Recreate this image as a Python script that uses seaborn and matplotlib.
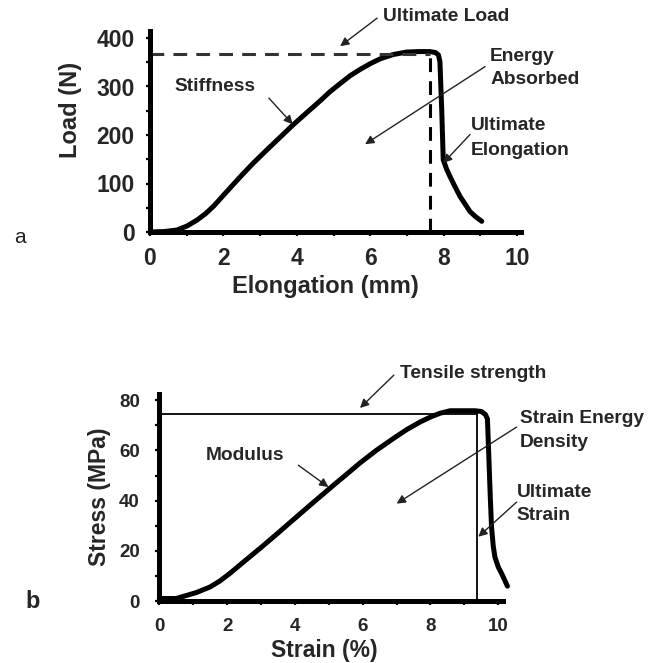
import matplotlib
matplotlib.use("Agg")
import matplotlib.pyplot as plt
import seaborn as sns
import numpy as np
import pandas as pd
from matplotlib.ticker import MultipleLocator, NullFormatter

# ---------------- data ----------------
# panel a: load-elongation curve
elong_mm = [0.0, 0.4, 0.73, 1.0, 1.27, 1.5, 1.73, 2.1, 2.45, 2.8, 3.18, 3.54, 3.9,
            4.3, 4.63, 4.9, 5.18, 5.45, 5.72, 6.0, 6.27, 6.63, 6.99, 7.3, 7.63,
            7.78, 7.86, 7.9, 7.95, 7.99, 8.08, 8.17, 8.3, 8.45, 8.6, 8.72, 8.88, 9.04]
load_N = [0, 1, 4, 12, 24, 37, 53, 84, 113, 141, 169, 195, 221,
          248, 270, 289, 306, 322, 335, 347, 357, 366, 371, 372, 372,
          370, 365, 351, 250, 149, 130, 115, 95, 73, 56, 42, 31, 22]
ultimate_load = 368
ultimate_elong = 7.63

# panel b: stress-strain curve
strain_pct = [0.0, 0.5, 1.1, 1.5, 1.79, 2.1, 2.48, 3.0, 3.46, 3.86, 4.45, 5.04, 5.5, 5.92,
              6.4, 6.9, 7.3, 7.69, 8.0, 8.28, 8.58, 9.0, 9.31, 9.5, 9.62,
              9.68, 9.71, 9.76, 9.8, 9.85, 9.9, 10.0, 10.1, 10.27]
stress_MPa = [1, 1, 3.4, 5.6, 8.0, 11.2, 15.5, 21.3, 26.6, 31.3, 38.2, 45.0, 50.2, 55.0,
              60.0, 64.7, 68.3, 71.3, 73.3, 74.8, 75.8, 75.8, 75.8, 75.5, 74.3,
              72.5, 61.4, 42.8, 29.5, 22.0, 17.5, 13.5, 10.9, 5.9]
tensile_strength = 74.7
ultimate_strain = 9.36

# ---------------- style ----------------
sns.set_style("ticks")
plt.rcParams['font.family'] = ['Liberation Sans', 'DejaVu Sans']
plt.rcParams['font.weight'] = 'bold'

W, H = 653, 663
fig = plt.figure(figsize=(W / 100, H / 100), dpi=100)

def px_axes(x0, y0, ppx, ppy, xmax, ymax):
    # x0,y0: pixel position of data origin (from top-left); ppx/ppy: pixels per unit
    left = x0 / W
    bottom = (H - y0) / H
    width = xmax * ppx / W
    height = ymax * ppy / H
    return fig.add_axes([left, bottom, width, height])

def style_axes(ax, spine_lw, tick_fs, xpad, ypad):
    for s in ["top", "right"]:
        ax.spines[s].set_visible(False)
    for s in ["left", "bottom"]:
        ax.spines[s].set_linewidth(spine_lw)
        ax.spines[s].set_color("black")
        ax.spines[s].set_capstyle("projecting")
    ax.tick_params(axis="both", which="both", direction="out", length=3,
                   width=1.6, color="black", labelsize=tick_fs)
    ax.tick_params(axis="x", which="major", pad=xpad)
    ax.tick_params(axis="y", which="major", pad=ypad)
    ax.set_xlabel("")
    ax.set_ylabel("")
    ax.patch.set_alpha(0)
    for lab in ax.get_xticklabels() + ax.get_yticklabels():
        lab.set_fontweight("bold")
    for ln in ax.get_lines():
        ln.set_clip_on(False)

# ---------------- panel a ----------------
ax1 = px_axes(150, 232, 36.7, 0.485, 10.1, 414)
dfa = pd.DataFrame({"Elongation (mm)": elong_mm, "Load (N)": load_N})
sns.lineplot(data=dfa, x="Elongation (mm)", y="Load (N)", ax=ax1, color="black",
             lw=3.6, sort=False, estimator=None, solid_capstyle="round",
             solid_joinstyle="round")
ax1.plot([0, ultimate_elong], [ultimate_load, ultimate_load], color="#333333",
         lw=2.2, linestyle=(0, (4.5, 3)))
ax1.plot([ultimate_elong, ultimate_elong], [0, ultimate_load], color="black",
         lw=2.2, linestyle=(0, (4.5, 3)))
ax1.set_xlim(0, 10.1)
ax1.set_ylim(0, 414)
ax1.xaxis.set_major_locator(MultipleLocator(2))
ax1.xaxis.set_minor_locator(MultipleLocator(1))
ax1.yaxis.set_major_locator(MultipleLocator(100))
ax1.yaxis.set_minor_locator(MultipleLocator(50))
ax1.xaxis.set_minor_formatter(NullFormatter())
style_axes(ax1, 3.6, 16.5, 8, 8)

ann_fs = 13.8
arrow = dict(arrowstyle="-|>", color="#222222", lw=1.0, mutation_scale=13,
             shrinkA=0, shrinkB=0)
ax1.text(6.35, 445, "Ultimate Load", fontsize=ann_fs, fontweight="bold",
         va="center", ha="left", clip_on=False)
ax1.annotate("", xy=(5.18, 383), xytext=(6.19, 441), arrowprops=arrow,
             annotation_clip=False)
ax1.text(0.68, 301, "Stiffness", fontsize=ann_fs, fontweight="bold",
         va="center", ha="left")
ax1.annotate("", xy=(3.89, 222), xytext=(3.24, 276), arrowprops=arrow)
ax1.text(9.27, 362, "Energy", fontsize=ann_fs, fontweight="bold",
         va="center", ha="left", clip_on=False)
ax1.text(9.27, 314, "Absorbed", fontsize=ann_fs, fontweight="bold",
         va="center", ha="left", clip_on=False)
ax1.annotate("", xy=(5.86, 181), xytext=(9.13, 341), arrowprops=arrow,
             annotation_clip=False)
ax1.text(8.75, 219, "Ultimate", fontsize=ann_fs, fontweight="bold",
         va="center", ha="left", clip_on=False)
ax1.text(8.75, 169, "Elongation", fontsize=ann_fs, fontweight="bold",
         va="center", ha="left", clip_on=False)
ax1.annotate("", xy=(7.99, 142), xytext=(8.72, 201), arrowprops=arrow,
             annotation_clip=False)

fig.text(70 / W, 1 - 110 / H, "Load (N)", rotation=90, fontsize=17,
         fontweight="bold", ha="center", va="center")
fig.text(325 / W, 1 - 286 / H, "Elongation (mm)", fontsize=17,
         fontweight="bold", ha="center", va="center")
fig.text(20 / W, 1 - 237 / H, "a", fontsize=15, fontweight="normal",
         ha="center", va="center", color="#222222")

# ---------------- panel b ----------------
ax2 = px_axes(159.3, 601, 33.9, 2.51, 10.15, 82.6)
dfb = pd.DataFrame({"Strain (%)": strain_pct, "Stress (MPa)": stress_MPa})
sns.lineplot(data=dfb, x="Strain (%)", y="Stress (MPa)", ax=ax2, color="black",
             lw=3.6, sort=False, estimator=None, solid_capstyle="round",
             solid_joinstyle="round")
ax2.plot([0, ultimate_strain], [tensile_strength, tensile_strength],
         color="black", lw=1.3)
ax2.plot([ultimate_strain, ultimate_strain], [0, tensile_strength],
         color="black", lw=1.3)
ax2.set_xlim(0, 10.15)
ax2.set_ylim(0, 82.6)
ax2.xaxis.set_major_locator(MultipleLocator(2))
ax2.xaxis.set_minor_locator(MultipleLocator(1))
ax2.yaxis.set_major_locator(MultipleLocator(20))
ax2.yaxis.set_minor_locator(MultipleLocator(10))
ax2.xaxis.set_minor_formatter(NullFormatter())
style_axes(ax2, 3.6, 13.5, 9, 11)

ax2.text(7.1, 90.7, "Tensile strength", fontsize=ann_fs, fontweight="bold",
         va="center", ha="left", clip_on=False)
ax2.annotate("", xy=(5.92, 76.9), xytext=(6.92, 90), arrowprops=arrow,
             annotation_clip=False)
ax2.text(1.38, 58, "Modulus", fontsize=ann_fs, fontweight="bold",
         va="center", ha="left")
ax2.annotate("", xy=(4.99, 45.4), xytext=(4.1, 54.1), arrowprops=arrow)
ax2.text(10.64, 72.8, "Strain Energy", fontsize=ann_fs, fontweight="bold",
         va="center", ha="left", clip_on=False)
ax2.text(10.64, 63.3, "Density", fontsize=ann_fs, fontweight="bold",
         va="center", ha="left", clip_on=False)
ax2.annotate("", xy=(7.0, 38.8), xytext=(10.54, 69.3), arrowprops=arrow,
             annotation_clip=False)
ax2.text(10.54, 43.4, "Ultimate", fontsize=ann_fs, fontweight="bold",
         va="center", ha="left", clip_on=False)
ax2.text(10.54, 34.1, "Strain", fontsize=ann_fs, fontweight="bold",
         va="center", ha="left", clip_on=False)
ax2.annotate("", xy=(9.41, 25.6), xytext=(10.54, 39.4), arrowprops=arrow,
             annotation_clip=False)

fig.text(100 / W, 1 - 497 / H, "Stress (MPa)", rotation=90, fontsize=16.5,
         fontweight="bold", ha="center", va="center")
fig.text(324 / W, 1 - 651 / H, "Strain (%)", fontsize=16.5,
         fontweight="bold", ha="center", va="center")
fig.text(33 / W, 1 - 601 / H, "b", fontsize=17, fontweight="bold",
         ha="center", va="center")

fig.savefig("out.png", dpi=100, facecolor="white")
